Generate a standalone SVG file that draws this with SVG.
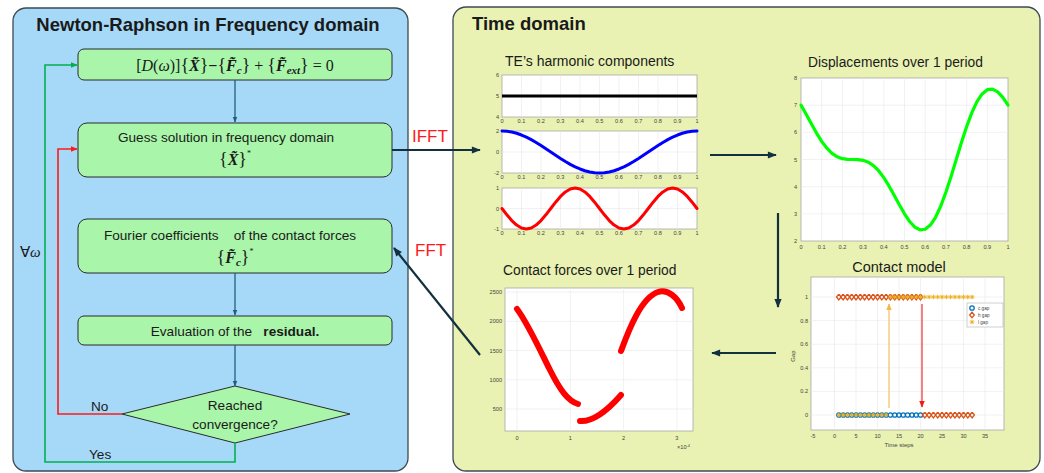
<svg xmlns="http://www.w3.org/2000/svg" width="1044" height="473" viewBox="0 0 1044 473">
<style>
.pl{fill:#a6d9f7;stroke:#3d4a55;stroke-width:1.3}
.pr{fill:#e9f2b2;stroke:#3d4a55;stroke-width:1.3}
.box{fill:#a9f5a9;stroke:#2b2b2b;stroke-width:1}
.t{font-family:"Liberation Sans",Arial,sans-serif;fill:#1a1a1a}
.eq{font-family:"Liberation Serif","Times New Roman",serif;fill:#1a1a1a}
.bi{font-weight:bold;font-style:italic}
.tk{font-family:"Liberation Sans",Arial,sans-serif;font-size:5.6px;fill:#444}
.tr{text-anchor:end}
.tm{text-anchor:middle}
.ax{fill:#fff;stroke:#a8a8a8;stroke-width:0.8}
.grid{stroke:#e8e8e8;stroke-width:0.6;fill:none}
.flow{stroke:#1f5f85;stroke-width:1.3;fill:none}
.dark{stroke:#13303f;stroke-width:2.2;fill:none}
.curve{fill:none;stroke-linejoin:round;stroke-linecap:round}
.mk{fill:none;stroke:none}
</style>
<defs>
<marker id="aB" viewBox="0 0 10 10" refX="9" refY="5" markerWidth="6" markerHeight="6" markerUnits="userSpaceOnUse" orient="auto"><path d="M0,1 L10,5 L0,9 z" fill="#1f5f85"/></marker>
<marker id="aR" viewBox="0 0 10 10" refX="9" refY="5" markerWidth="7" markerHeight="7" markerUnits="userSpaceOnUse" orient="auto"><path d="M0,1 L10,5 L0,9 z" fill="#ff1a1a"/></marker>
<marker id="aG" viewBox="0 0 10 10" refX="9" refY="5" markerWidth="7" markerHeight="7" markerUnits="userSpaceOnUse" orient="auto"><path d="M0,1 L10,5 L0,9 z" fill="#00b050"/></marker>
<marker id="aD" viewBox="0 0 10 10" refX="9" refY="5" markerWidth="10" markerHeight="9" markerUnits="userSpaceOnUse" orient="auto"><path d="M0,1 L10,5 L0,9 z" fill="#13303f"/></marker>
<marker id="aO" viewBox="0 0 10 10" refX="9" refY="5" markerWidth="7" markerHeight="7" markerUnits="userSpaceOnUse" orient="auto"><path d="M0,1 L10,5 L0,9 z" fill="#f2b84f"/></marker>
<marker id="aRed" viewBox="0 0 10 10" refX="9" refY="5" markerWidth="7" markerHeight="7" markerUnits="userSpaceOnUse" orient="auto"><path d="M0,1 L10,5 L0,9 z" fill="#f01818"/></marker>
<marker id="mc" viewBox="0 0 7 7" refX="3.5" refY="3.5" markerWidth="7" markerHeight="7" markerUnits="userSpaceOnUse"><circle cx="3.5" cy="3.5" r="2.2" fill="none" stroke="#0072bd" stroke-width="1.3"/></marker>
<marker id="md" viewBox="0 0 7 7" refX="3.5" refY="3.5" markerWidth="7" markerHeight="7" markerUnits="userSpaceOnUse"><path d="M3.5,0.6 L5.8,3.5 L3.5,6.4 L1.2,3.5 z" fill="none" stroke="#d95319" stroke-width="1.3"/></marker>
<marker id="mp" viewBox="0 0 7 7" refX="3.5" refY="3.5" markerWidth="7" markerHeight="7" markerUnits="userSpaceOnUse"><path d="M3.5,1.2 V5.8 M1.2,3.5 H5.8 M2,2 L5,5 M5,2 L2,5" stroke="#edb120" stroke-width="1"/></marker>
</defs>

<!-- Panels -->
<g id="panel-frequency">
<rect class="pl" x="13" y="8" width="395" height="463" rx="13"/>
<text class="t" x="208" y="31" text-anchor="middle" font-size="18.5" font-weight="bold">Newton-Raphson in Frequency domain</text>
</g>
<g id="panel-time">
<rect class="pr" x="453" y="7" width="587" height="464" rx="13"/>
<text class="t" x="472" y="30" font-size="18.5" font-weight="bold">Time domain</text>
</g>

<!-- Nodes left -->
<g id="node-equation">
<rect class="box" x="78" y="49" width="314" height="31" rx="6"/>
<text class="eq" x="235" y="71" text-anchor="middle" font-size="16">[<tspan font-style="italic">D</tspan>(<tspan font-style="italic">ω</tspan>)]<tspan font-size="18">{</tspan><tspan class="bi">X̃</tspan><tspan font-size="18">}</tspan><tspan font-weight="bold">−</tspan><tspan font-size="18">{</tspan><tspan class="bi">F̃</tspan><tspan class="bi" font-size="11" baseline-shift="-3">c</tspan><tspan font-size="18">}</tspan> + <tspan font-size="18">{</tspan><tspan class="bi">F̃</tspan><tspan class="bi" font-size="11" baseline-shift="-3">ext</tspan><tspan font-size="18">}</tspan> = 0</text>
</g>
<g id="node-guess">
<rect class="box" x="78" y="123" width="314" height="54" rx="9"/>
<text class="t" x="226" y="142" text-anchor="middle" font-size="13.6">Guess solution in frequency domain</text>
<text class="eq" x="235" y="165" text-anchor="middle" font-size="16"><tspan font-size="18">{</tspan><tspan class="bi">X̃</tspan><tspan font-size="18">}</tspan><tspan font-size="8" baseline-shift="9">*</tspan></text>
</g>
<g id="node-fourier">
<rect class="box" x="78" y="219" width="314" height="54" rx="9"/>
<text class="t" x="230" y="240" text-anchor="middle" font-size="13.6" xml:space="preserve">Fourier coefficients    of the contact forces</text>
<text class="eq" x="235" y="263" text-anchor="middle" font-size="16"><tspan font-size="18">{</tspan><tspan class="bi">F̃</tspan><tspan class="bi" font-size="11" baseline-shift="-3">c</tspan><tspan font-size="18">}</tspan><tspan font-size="8" baseline-shift="9">*</tspan></text>
</g>
<g id="node-residual">
<rect class="box" x="78" y="316" width="314" height="29" rx="6"/>
<text class="t" x="235" y="336" text-anchor="middle" font-size="13.6" xml:space="preserve">Evaluation of the   <tspan font-weight="bold">residual.</tspan></text>
</g>
<g id="node-convergence">
<path class="box" d="M235,386 L350,414 L235,443 L122,414 Z"/>
<text class="t" x="235" y="410" text-anchor="middle" font-size="13.6">Reached</text>
<text class="t" x="235" y="429" text-anchor="middle" font-size="13.6">convergence?</text>
</g>

<!-- Plots -->
<g id="node-te">
<text class="t" x="505" y="66" font-size="14">TE’s harmonic components</text>
<rect class="ax" x="502" y="75" width="195" height="42"/>
<rect class="ax" x="502" y="131" width="195" height="42"/>
<rect class="ax" x="502" y="188" width="195" height="41"/>
<path class="grid" d="M521.5,75V117M541,75V117M560.5,75V117M580,75V117M599.5,75V117M619,75V117M638.5,75V117M658,75V117M677.5,75V117M502,96H697
M521.5,131V173M541,131V173M560.5,131V173M580,131V173M599.5,131V173M619,131V173M638.5,131V173M658,131V173M677.5,131V173M502,152H697
M521.5,188V229M541,188V229M560.5,188V229M580,188V229M599.5,188V229M619,188V229M638.5,188V229M658,188V229M677.5,188V229M502,208.5H697"/>
<path d="M502,96H697" stroke="#000" stroke-width="3"/>
<polyline class="curve" stroke="#0000ff" stroke-width="3" vector-effect="non-scaling-stroke" transform="translate(502,152) scale(4.875,-21)" points="0,1 1,.9877 2,.9511 3,.891 4,.809 5,.7071 6,.5878 7,.454 8,.309 9,.1564 10,0 11,-.1564 12,-.309 13,-.454 14,-.5878 15,-.7071 16,-.809 17,-.891 18,-.9511 19,-.9877 20,-1 21,-.9877 22,-.9511 23,-.891 24,-.809 25,-.7071 26,-.5878 27,-.454 28,-.309 29,-.1564 30,0 31,.1564 32,.309 33,.454 34,.5878 35,.7071 36,.809 37,.891 38,.9511 39,.9877 40,1"/>
<polyline class="curve" stroke="#ff0000" stroke-width="3" vector-effect="non-scaling-stroke" transform="translate(502,208.5) scale(4.875,-20.5)" points="0,0 1,-.309 2,-.5878 3,-.809 4,-.9511 5,-1 6,-.9511 7,-.809 8,-.5878 9,-.309 10,0 11,.309 12,.5878 13,.809 14,.9511 15,1 16,.9511 17,.809 18,.5878 19,.309 20,0 21,-.309 22,-.5878 23,-.809 24,-.9511 25,-1 26,-.9511 27,-.809 28,-.5878 29,-.309 30,0 31,.309 32,.5878 33,.809 34,.9511 35,1 36,.9511 37,.809 38,.5878 39,.309 40,0"/>
<g class="tk tr">
<text x="499" y="77">6</text><text x="499" y="98">5</text><text x="499" y="119">4</text>
<text x="499" y="133">2</text><text x="499" y="154">0</text><text x="499" y="175">-2</text>
<text x="499" y="190">1</text><text x="499" y="210.5">0</text><text x="499" y="231">-1</text>
</g>
<g class="tk tm">
<text x="502" y="123">0</text><text x="521.5" y="123">0.1</text><text x="541" y="123">0.2</text><text x="560.5" y="123">0.3</text><text x="580" y="123">0.4</text><text x="599.5" y="123">0.5</text><text x="619" y="123">0.6</text><text x="638.5" y="123">0.7</text><text x="658" y="123">0.8</text><text x="677.5" y="123">0.9</text><text x="697" y="123">1</text>
<text x="502" y="179">0</text><text x="521.5" y="179">0.1</text><text x="541" y="179">0.2</text><text x="560.5" y="179">0.3</text><text x="580" y="179">0.4</text><text x="599.5" y="179">0.5</text><text x="619" y="179">0.6</text><text x="638.5" y="179">0.7</text><text x="658" y="179">0.8</text><text x="677.5" y="179">0.9</text><text x="697" y="179">1</text>
<text x="502" y="235">0</text><text x="521.5" y="235">0.1</text><text x="541" y="235">0.2</text><text x="560.5" y="235">0.3</text><text x="580" y="235">0.4</text><text x="599.5" y="235">0.5</text><text x="619" y="235">0.6</text><text x="638.5" y="235">0.7</text><text x="658" y="235">0.8</text><text x="677.5" y="235">0.9</text><text x="697" y="235">1</text>
</g>
</g>

<g id="node-displacements">
<text class="t" x="808" y="67" font-size="13.8">Displacements over 1 period</text>
<rect class="ax" x="801" y="78" width="207" height="163"/>
<path class="grid" d="M821.7,78V241M842.4,78V241M863.1,78V241M883.8,78V241M904.5,78V241M925.2,78V241M945.9,78V241M966.6,78V241M987.3,78V241M801,105.2H1008M801,132.3H1008M801,159.5H1008M801,186.7H1008M801,213.8H1008"/>
<polyline class="curve" stroke="#00ff00" stroke-width="3.2" vector-effect="non-scaling-stroke" transform="translate(801,295.33) scale(5.175,-27.17)" points="0,7 1,6.666 2,6.314 3,5.973 4,5.667 5,5.414 6,5.2245 7,5.099 8,5.03 9,5.004 10,5 11,4.996 12,4.97 13,4.901 14,4.7755 15,4.586 16,4.333 17,4.027 18,3.686 19,3.334 20,3 21,2.716 22,2.51 23,2.409 24,2.431 25,2.586 26,2.873 27,3.283 28,3.794 29,4.378 30,5 31,5.622 32,6.206 33,6.717 34,7.127 35,7.414 36,7.569 37,7.591 38,7.49 39,7.284 40,7"/>
<g class="tk tr">
<text x="797" y="80">8</text><text x="797" y="107.2">7</text><text x="797" y="134.3">6</text><text x="797" y="161.5">5</text><text x="797" y="188.7">4</text><text x="797" y="215.8">3</text><text x="797" y="243">2</text>
</g>
<g class="tk tm">
<text x="801" y="249">0</text><text x="821.7" y="249">0.1</text><text x="842.4" y="249">0.2</text><text x="863.1" y="249">0.3</text><text x="883.8" y="249">0.4</text><text x="904.5" y="249">0.5</text><text x="925.2" y="249">0.6</text><text x="945.9" y="249">0.7</text><text x="966.6" y="249">0.8</text><text x="987.3" y="249">0.9</text><text x="1008" y="249">1</text>
</g>
</g>

<g id="node-contact-model">
<text class="t" x="899" y="272" text-anchor="middle" font-size="14.5">Contact model</text>
<rect class="ax" x="811" y="277" width="193" height="153"/>
<path class="grid" d="M834.5,277V430M856,277V430M877.5,277V430M899,277V430M920.5,277V430M942,277V430M963.5,277V430M985,277V430M811,297H1004M811,320.6H1004M811,344.2H1004M811,367.8H1004M811,391.4H1004M811,415H1004"/>
<polyline class="mk" marker-start="url(#mc)" marker-mid="url(#mc)" marker-end="url(#mc)" points="838.8,415 843.1,415 847.4,415 851.7,415 856,415 860.3,415 864.6,415 868.9,415 873.2,415 877.5,415 881.8,415 886.1,415 890.4,415 894.7,415 899,415 903.3,415 907.6,415 911.9,415 916.2,415 920.5,415"/>
<polyline class="mk" marker-start="url(#md)" marker-mid="url(#md)" marker-end="url(#md)" points="838.8,297 843.1,297 847.4,297 851.7,297 856,297 860.3,297 864.6,297 868.9,297 873.2,297 877.5,297 881.8,297 886.1,297 890.4,297 894.7,297 899,297 903.3,297 907.6,297 911.9,297 916.2,297 920.5,297"/>
<polyline class="mk" marker-start="url(#md)" marker-mid="url(#md)" marker-end="url(#md)" points="924.8,415 929.1,415 933.4,415 937.7,415 942,415 946.3,415 950.6,415 954.9,415 959.2,415 963.5,415 967.8,415 972.1,415"/>
<polyline class="mk" marker-start="url(#mp)" marker-mid="url(#mp)" marker-end="url(#mp)" points="838.8,415 843.1,415 847.4,415 851.7,415 856,415 860.3,415 864.6,415 868.9,415 873.2,415 877.5,415 881.8,415 886.1,415"/>
<polyline class="mk" marker-start="url(#mp)" marker-mid="url(#mp)" marker-end="url(#mp)" points="890.4,297 894.7,297 899,297 903.3,297 907.6,297 911.9,297 916.2,297 920.5,297 924.8,297 929.1,297 933.4,297 937.7,297 942,297 946.3,297 950.6,297 954.9,297 959.2,297 963.5,297 967.8,297 972.1,297"/>
<path d="M889,408V304" stroke="#f5c46e" stroke-width="1.3" marker-end="url(#aO)"/>
<path d="M922,304V407" stroke="#f01818" stroke-width="1.1" marker-end="url(#aRed)"/>
<rect x="967" y="303" width="36" height="24" fill="#fff" stroke="#b0b0b0" stroke-width="0.6"/>
<circle cx="972" cy="308" r="2.2" fill="none" stroke="#0072bd" stroke-width="1.3"/>
<path d="M972,312.2 L974.3,315 L972,317.8 L969.7,315 z" fill="none" stroke="#d95319" stroke-width="1.3"/>
<path d="M972,319.7V324.3M969.7,322H974.3M970.5,320.5L973.5,323.5M973.5,320.5L970.5,323.5" stroke="#edb120" stroke-width="1"/>
<g class="tk">
<text x="978" y="309.7" style="font-size:4.6px">c gap</text><text x="978" y="316.7" style="font-size:4.6px">h gap</text><text x="978" y="323.7" style="font-size:4.6px">l gap</text>
</g>
<g class="tk tr">
<text x="808" y="299">1</text><text x="808" y="322.6">0.8</text><text x="808" y="346.2">0.6</text><text x="808" y="369.8">0.4</text><text x="808" y="393.4">0.2</text><text x="808" y="417">0</text>
</g>
<g class="tk tm">
<text x="813" y="438">-5</text><text x="834.5" y="438">0</text><text x="856" y="438">5</text><text x="877.5" y="438">10</text><text x="899" y="438">15</text><text x="920.5" y="438">20</text><text x="942" y="438">25</text><text x="963.5" y="438">30</text><text x="985" y="438">35</text>
</g>
<text class="tk" x="899" y="447" text-anchor="middle" style="font-size:6px">Time steps</text>
<text class="tk" x="795" y="356" text-anchor="middle" style="font-size:6px" transform="rotate(-90 795 356)">Gap</text>
</g>

<g id="node-contact-forces">
<text class="t" x="503" y="275" font-size="13.8">Contact forces over 1 period</text>
<rect class="ax" x="505" y="288" width="188" height="143"/>
<path class="grid" d="M517,288V431M570.3,288V431M623.6,288V431M676.9,288V431M505,292H693M505,321.3H693M505,350.5H693M505,379.8H693M505,409H693"/>
<g class="curve" stroke="#ff0000" stroke-width="6">
<path d="M517,309 C527,322 540,350 550,370 C560,390 568,401 578,404"/>
<path d="M580,421 C593,422 607,411 621,395"/>
<path d="M621,351 C627,335 640,298 658,292 C668,289 677,297 682,308"/>
</g>
<g class="tk tr">
<text x="502" y="294">2500</text><text x="502" y="323.3">2000</text><text x="502" y="352.5">1500</text><text x="502" y="381.8">1000</text><text x="502" y="411">500</text>
</g>
<g class="tk tm">
<text x="517" y="440">0</text><text x="570.3" y="440">1</text><text x="623.6" y="440">2</text><text x="676.9" y="440">3</text>
</g>
<text class="tk" x="677" y="449">×10<tspan style="font-size:4px" baseline-shift="2.5">-4</tspan></text>
</g>

<!-- Connectors -->
<g id="connectors">
<path class="flow" d="M235,80V122" marker-end="url(#aB)"/>
<path class="flow" d="M235,273V315" marker-end="url(#aB)"/>
<path class="flow" d="M235,345V386" marker-end="url(#aB)"/>
<path d="M122,414H58V149H77" fill="none" stroke="#ff1a1a" stroke-width="1.6" marker-end="url(#aR)"/>
<path d="M235,443V462H45V65H77" fill="none" stroke="#00b050" stroke-width="1.6" marker-end="url(#aG)"/>
<path class="dark" d="M392,150H480" marker-end="url(#aD)"/>
<path class="dark" d="M480,355L394,248" marker-end="url(#aD)"/>
<path class="dark" d="M710,155H776" marker-end="url(#aD)"/>
<path class="dark" d="M778,213V307" marker-end="url(#aD)"/>
<path class="dark" d="M776,353H712" marker-end="url(#aD)"/>
<text class="t" x="412" y="142" font-size="17" style="fill:#ff1a1a">IFFT</text>
<text class="t" x="415" y="256" font-size="17" style="fill:#ff1a1a">FFT</text>
<text class="t" x="91" y="411" font-size="13.6">No</text>
<text class="t" x="89" y="459" font-size="13.6">Yes</text>
<text class="eq" x="20" y="257" font-size="15">∀<tspan font-style="italic">ω</tspan></text>
</g>
</svg>
